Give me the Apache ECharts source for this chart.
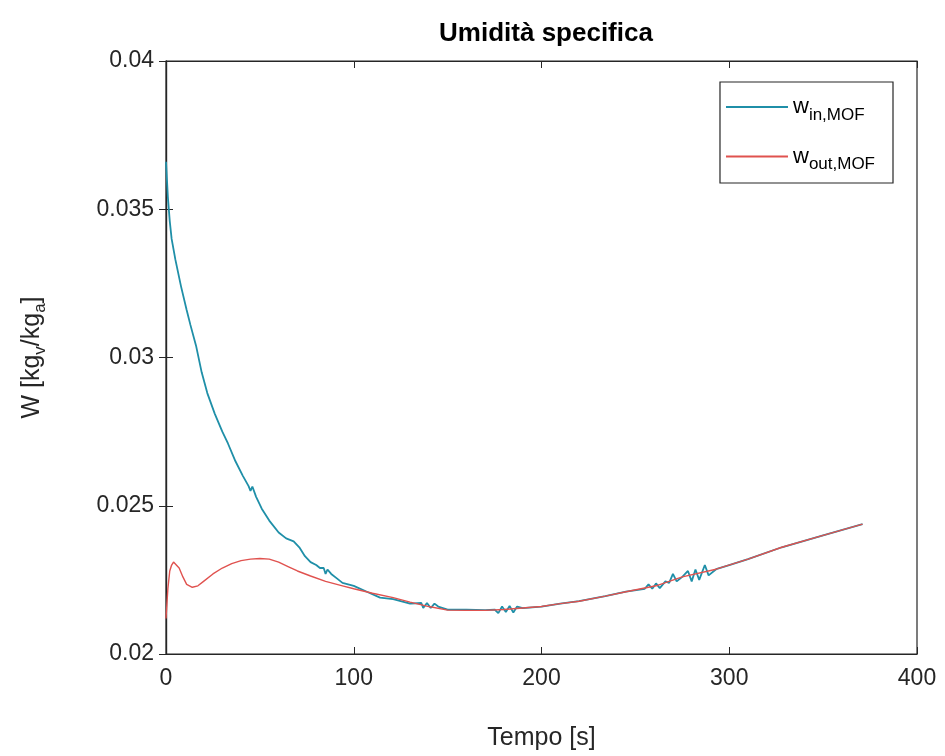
<!DOCTYPE html>
<html>
<head>
<meta charset="utf-8">
<script src="https://cdn.jsdelivr.net/npm/echarts@6/dist/echarts.min.js"></script>
<style>html,body{margin:0;padding:0;background:#fff}#c{width:945px;height:756px}</style>
</head>
<body>
<div id="c"></div>
<script>
var titleText = 'Umidità specifica';
var xTicks = [0, 100, 200, 300, 400];
var yTicks = [0.02, 0.025, 0.03, 0.035, 0.04];

var tIn = [0, 1, 2, 3, 5, 8, 11, 13, 16, 19, 22, 26, 30, 33, 37, 41, 44, 45, 46, 48, 51, 55, 60, 64, 68, 71, 74, 77, 80, 82, 84, 85, 86, 88, 91, 94, 100, 107, 114, 121, 130, 136, 137, 139, 141, 143, 145, 150, 160, 170, 175, 177, 179, 181, 183, 185, 187, 190, 200, 210, 220, 234, 245, 255, 257, 259, 261, 263, 266, 268, 270, 272, 275, 278, 280, 282, 284, 287, 289, 293, 300, 310, 328, 350, 371];
var wIn = [0.0366, 0.0354, 0.0346, 0.0340, 0.0333, 0.0324, 0.0316, 0.0311, 0.0304, 0.0295, 0.0288, 0.0281, 0.0275, 0.0271, 0.0265, 0.0260, 0.02566, 0.0255, 0.02565, 0.0253, 0.0249, 0.0245, 0.0241, 0.0239, 0.0238, 0.0236, 0.0233, 0.0231, 0.0230, 0.0229, 0.0229, 0.0227, 0.02285, 0.0227, 0.02255, 0.0224, 0.0223, 0.0221, 0.0219, 0.02185, 0.0217, 0.02172, 0.02155, 0.02172, 0.02155, 0.0217, 0.0216, 0.0215, 0.0215, 0.02148, 0.0215, 0.02138, 0.0216, 0.02142, 0.02162, 0.0214, 0.0216, 0.02155, 0.0216, 0.0217, 0.02178, 0.02195, 0.0221, 0.0222, 0.02235, 0.0222, 0.02238, 0.02222, 0.02245, 0.0224, 0.0227, 0.02245, 0.0226, 0.0228, 0.02245, 0.02285, 0.0225, 0.0230, 0.02265, 0.02286, 0.0230, 0.0232, 0.0236, 0.0240, 0.02438];

var tOut = [0, 1, 2, 3, 4, 5, 7, 9, 11, 14, 17, 20, 25, 30, 35, 40, 45, 50, 55, 60, 65, 70, 77, 85, 94, 100, 110, 121, 130, 140, 150, 160, 170, 180, 190, 200, 210, 220, 234, 245, 261, 275, 293, 310, 328, 350, 371];
var wOut = [0.0212, 0.0222, 0.0228, 0.0230, 0.0231, 0.02305, 0.0229, 0.0226, 0.02235, 0.02225, 0.0223, 0.02245, 0.0227, 0.0229, 0.02305, 0.02315, 0.0232, 0.02322, 0.0232, 0.0231, 0.02295, 0.0228, 0.02263, 0.02245, 0.0223, 0.0222, 0.02205, 0.0219, 0.02175, 0.0216, 0.02148, 0.02147, 0.02147, 0.0215, 0.02155, 0.0216, 0.0217, 0.02178, 0.02195, 0.0221, 0.0223, 0.0226, 0.02286, 0.0232, 0.0236, 0.0240, 0.02438];

var nameIn = 'w{sub|in,MOF}';
var nameOut = 'w{sub|out,MOF}';

function pairs(xs, ys) { return xs.map(function (x, i) { return [x, ys[i]]; }); }

var chart = echarts.init(document.getElementById('c'));
var font = '"Liberation Sans", Arial, Helvetica, sans-serif';
var axisCol = '#262626';
chart.setOption({
  animation: false,
  backgroundColor: '#ffffff',
  textStyle: { fontFamily: font },
  title: {
    text: titleText, left: 541, top: 16, textAlign: 'center',
    textStyle: { fontFamily: font, fontSize: 26, fontWeight: 'bold', color: '#000' }
  },
  grid: { left: 166, right: 28, top: 61, bottom: 101, show: true, borderColor: axisCol, borderWidth: 1.2, backgroundColor: '#fff' },
  legend: {
    orient: 'vertical', right: 52, top: 82,
    backgroundColor: '#fff', borderColor: axisCol, borderWidth: 1.2,
    padding: [14, 18, 10, 6], itemGap: 22, itemWidth: 62, itemHeight: 2,
    icon: 'rect',
    data: [nameIn, nameOut],
    textStyle: {
      fontFamily: font, fontSize: 22, color: '#000',
      rich: { sub: { fontSize: 17, padding: [16, 0, 0, 0], fontFamily: font, color: '#000' } }
    }
  },
  xAxis: [{
    type: 'value', min: 0, max: 400, interval: 100,
    name: 'Tempo [s]', nameLocation: 'middle', nameGap: 72,
    nameTextStyle: { fontFamily: font, fontSize: 25, color: axisCol },
    axisLine: { show: true, lineStyle: { color: axisCol, width: 1.2 } },
    axisTick: { show: true, inside: true, length: 7, lineStyle: { color: axisCol } },
    axisLabel: { fontFamily: font, fontSize: 23, color: axisCol, margin: 13 },
    splitLine: { show: false }
  }, {
    type: 'value', min: 0, max: 400, interval: 100, position: 'top',
    axisLine: { show: true, lineStyle: { color: axisCol, width: 1.2 } },
    axisTick: { show: true, inside: true, length: 7, lineStyle: { color: axisCol } },
    axisLabel: { show: false }, splitLine: { show: false }
  }],
  yAxis: [{
    type: 'value', min: 0.02, max: 0.04, interval: 0.005,
    name: 'W [kg{sub|v}/kg{sub|a}]', nameLocation: 'middle', nameGap: 117, nameRotate: 90,
    nameTextStyle: {
      fontFamily: font, fontSize: 25, color: axisCol,
      rich: { sub: { fontSize: 17, padding: [16, 0, 0, 0], fontFamily: font, color: axisCol } }
    },
    axisLine: { show: true, lineStyle: { color: axisCol, width: 1.2 } },
    axisTick: { show: true, inside: true, length: 7, lineStyle: { color: axisCol } },
    axisLabel: { fontFamily: font, fontSize: 23, color: axisCol, margin: 12, formatter: function (v) { return String(+v.toFixed(3)); } },
    splitLine: { show: false }
  }, {
    type: 'value', min: 0.02, max: 0.04, interval: 0.005, position: 'right',
    axisLine: { show: true, lineStyle: { color: axisCol, width: 1.2 } },
    axisTick: { show: true, inside: true, length: 7, lineStyle: { color: axisCol } },
    axisLabel: { show: false }, splitLine: { show: false }
  }],
  series: [{
    name: nameIn, type: 'line', showSymbol: false, symbol: 'none',
    data: pairs(tIn, wIn), color: '#1f8fa8',
    lineStyle: { width: 1.8, color: '#1f8fa8' }, z: 2
  }, {
    name: nameOut, type: 'line', showSymbol: false, symbol: 'none',
    data: pairs(tOut, wOut), color: '#e0524f',
    lineStyle: { width: 1.4, color: '#e0524f' }, z: 3
  }]
});
</script>
</body>
</html>
